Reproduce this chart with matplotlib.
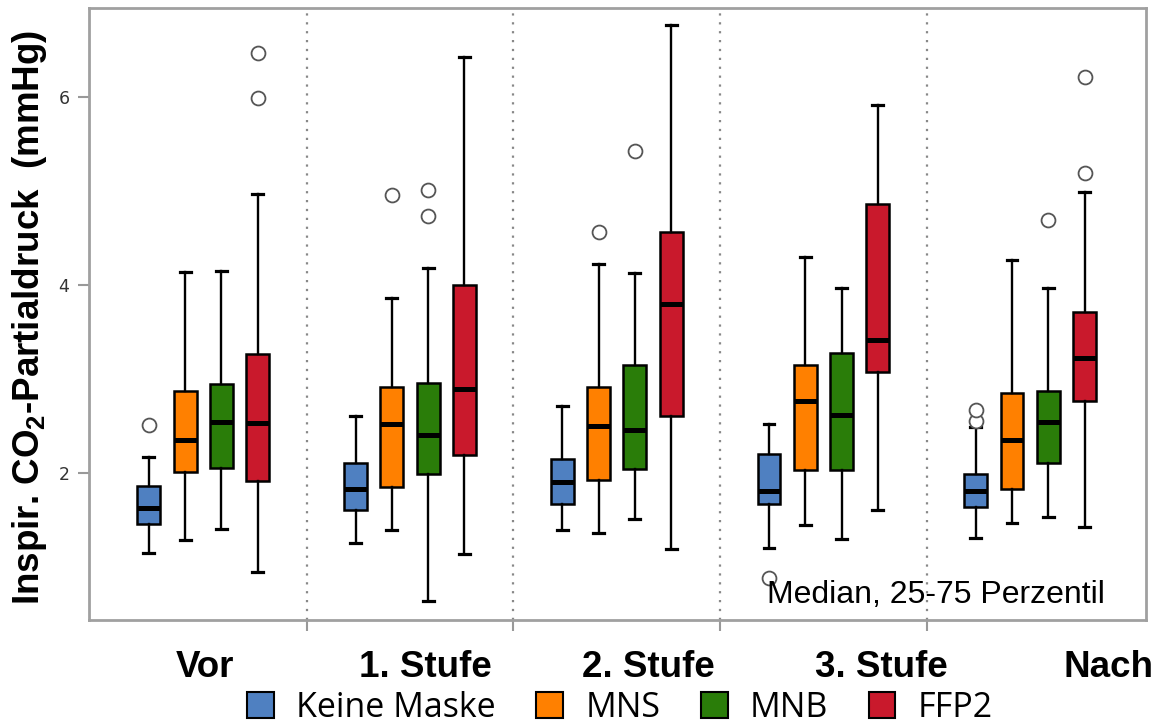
import matplotlib
matplotlib.use("Agg")
import matplotlib.pyplot as plt
from matplotlib.patches import Patch

# ---------------- data ----------------
stages = ["Vor", "1. Stufe", "2. Stufe", "3. Stufe", "Nach"]
series = ["Keine Maske", "MNS", "MNB", "FFP2"]
colors = ["#4F80C1", "#FF8000", "#2A7D09", "#C9192C"]

# (whislo, q1, median, q3, whishi) per stage
keine_maske = [(1.15, 1.45, 1.62, 1.86, 2.17),
               (1.25, 1.60, 1.83, 2.10, 2.60),
               (1.39, 1.67, 1.90, 2.15, 2.71),
               (1.20, 1.67, 1.81, 2.20, 2.52),
               (1.31, 1.63, 1.81, 1.99, 2.49)]
mns = [(1.28, 2.01, 2.35, 2.87, 4.14),
       (1.39, 1.85, 2.52, 2.91, 3.86),
       (1.36, 1.92, 2.50, 2.91, 4.22),
       (1.44, 2.03, 2.76, 3.15, 4.29),
       (1.46, 1.83, 2.35, 2.85, 4.26)]
mnb = [(1.40, 2.05, 2.54, 2.94, 4.15),
       (0.64, 1.99, 2.40, 2.95, 4.18),
       (1.51, 2.04, 2.45, 3.15, 4.12),
       (1.30, 2.03, 2.61, 3.27, 3.97),
       (1.53, 2.10, 2.54, 2.87, 3.97)]
ffp2 = [(0.94, 1.91, 2.53, 3.26, 4.97),
        (1.13, 2.19, 2.89, 4.00, 6.42),
        (1.19, 2.60, 3.80, 4.56, 6.76),
        (1.60, 3.07, 3.41, 4.86, 5.91),
        (1.42, 2.76, 3.22, 3.71, 4.99)]

# outliers per stage
keine_maske_out = [[2.51], [], [], [0.88], [2.55, 2.67]]
mns_out = [[], [4.95], [4.56], [], []]
mnb_out = [[], [4.73, 5.01], [5.42], [], [4.69]]
ffp2_out = [[5.99, 6.46], [], [], [], [5.19, 6.21]]

yticks = [2, 4, 6]

all_stats = [keine_maske, mns, mnb, ffp2]
all_out = [keine_maske_out, mns_out, mnb_out, ffp2_out]

# ---------------- figure ----------------
fig = plt.figure(figsize=(11.53, 7.24), dpi=100)
ax = fig.add_axes([89 / 1153, 1 - 620 / 724, (1146 - 89) / 1153, (620 - 7.5) / 724])

spacing = 0.1757
bw = 0.11
for k, (stats_list, out_list) in enumerate(zip(all_stats, all_out)):
    bstats = []
    for (lo, q1, med, q3, hi), fl in zip(stats_list, out_list):
        bstats.append(dict(whislo=lo, q1=q1, med=med, q3=q3, whishi=hi, fliers=fl))
    pos = [i + (k - 1.5) * spacing for i in range(len(stages))]
    ax.bxp(bstats, positions=pos, widths=bw, patch_artist=True, manage_ticks=False,
           boxprops=dict(facecolor=colors[k], edgecolor="black", linewidth=1.8),
           medianprops=dict(color="black", linewidth=3.6, solid_capstyle="butt"),
           whiskerprops=dict(color="black", linewidth=1.7),
           capprops=dict(color="black", linewidth=2.3),
           capwidths=0.052,
           flierprops=dict(marker="o", markerfacecolor="white", markeredgecolor="#555555",
                           markersize=10, markeredgewidth=1.3, linestyle="none"))

for d in [0.5, 1.5, 2.5, 3.5]:
    ax.axvline(d, color="#888888", linestyle=(0, (1, 3)), linewidth=1.6, zorder=0)

ax.set_xlim(-0.553, 4.561)
ax.set_ylim(0.433, 6.949)
ax.set_yticks(yticks)
ax.set_yticklabels([str(t) for t in yticks], fontsize=12.5, color="#333333")
ax.set_xticks([0.5, 1.5, 2.5, 3.5])
ax.set_xticklabels([])
ax.tick_params(axis="both", direction="out", length=8, width=1.5, color="#999999", pad=6)
for s in ax.spines.values():
    s.set_color("#A0A0A0")
    s.set_linewidth(2)

# annotation
fig.text(767 / 1153, 1 - 603 / 724, "Median, 25-75 Perzentil", fontsize=23,
         family="Liberation Sans", ha="left", va="baseline", color="black")

# group labels
label_x = [205, 425, 648, 881, 1108]
for lx, name in zip(label_x, stages):
    fig.text(lx / 1153, 1 - 677 / 724, name, fontsize=26.5, fontweight="bold",
             family="Liberation Sans", ha="center", va="baseline")

# y label
plt.rcParams["mathtext.default"] = "regular"
fig.text(30 / 1153, 1 - 317 / 724, "Inspir. CO$_2$-Partialdruck  (mmHg)", fontsize=26.5,
         fontweight="bold", family="Liberation Sans", rotation=90, ha="center", va="center")

# legend
handles = [Patch(facecolor=c, edgecolor="black", linewidth=1.5) for c in colors]
fig.legend(handles, series, loc="center", bbox_to_anchor=(620 / 1153, 1 - 708 / 724),
           ncol=4, frameon=False, prop=dict(family="Open Sans", size=24.5),
           handlelength=0.78, handleheight=0.78, handletextpad=0.65, columnspacing=1.2,
           borderpad=0, borderaxespad=0)

fig.savefig("out.png", dpi=100)
